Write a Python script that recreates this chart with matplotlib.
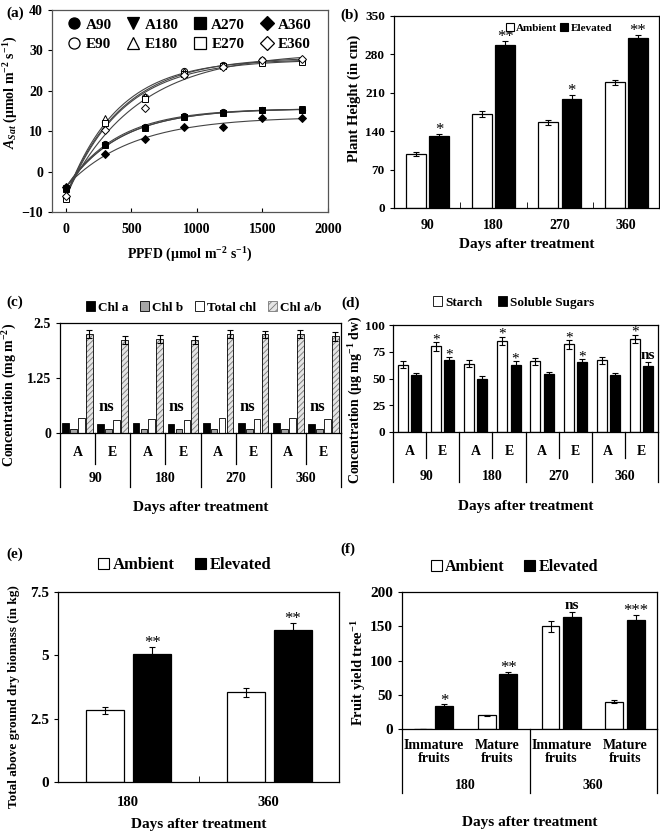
import numpy as np
import matplotlib
matplotlib.use('Agg')
import matplotlib.pyplot as plt
import matplotlib.transforms as mtransforms
from matplotlib.patches import Patch
from matplotlib.lines import Line2D

plt.rcParams['font.family'] = 'Liberation Serif'
plt.rcParams['font.weight'] = 'bold'
plt.rcParams['axes.labelweight'] = 'bold'
plt.rcParams['mathtext.fontset'] = 'custom'
plt.rcParams['mathtext.rm'] = 'Liberation Serif:bold'
plt.rcParams['mathtext.it'] = 'Liberation Serif:italic:bold'
plt.rcParams['mathtext.bf'] = 'Liberation Serif:bold'
plt.rcParams['axes.linewidth'] = 0.9
plt.rcParams['hatch.linewidth'] = 0.6

# (a) light response curves
ppfd = [0, 300, 600, 900, 1200, 1500, 1800]
a90 = [-4.0, 6.8, 11.0, 13.8, 14.8, 15.3, 15.3]
a180 = [-4.0, 6.5, 10.8, 13.5, 14.5, 15.2, 15.5]
a270 = [-4.2, 6.5, 10.7, 13.5, 14.5, 15.3, 15.3]
a360 = [-3.8, 4.3, 8.1, 11.1, 11.0, 13.2, 13.2]
e90 = [-6.2, 12.2, 18.5, 24.8, 26.5, 27.5, 27.5]
e180 = [-6.5, 13.2, 18.8, 24.8, 26.3, 27.3, 27.5]
e270 = [-6.8, 12.0, 18.0, 24.2, 26.2, 26.8, 27.2]
e360 = [-6.0, 10.3, 15.8, 23.8, 26.0, 27.5, 27.8]

# (b) plant height
days4 = ['90', '180', '270', '360']
height_amb = [98, 171, 156, 229]
height_amb_err = [4, 5, 5, 5]
height_elev = [131, 298, 199, 310]
height_elev_err = [4, 6, 7, 5]
height_sig = ['*', '**', '*', '**']

# (c) chlorophyll, order 90A, 90E, 180A, 180E, ...
chl_a = [0.23, 0.21, 0.22, 0.20, 0.23, 0.22, 0.23, 0.21]
chl_b = [0.10, 0.09, 0.10, 0.09, 0.10, 0.09, 0.10, 0.09]
chl_total = [0.33, 0.30, 0.32, 0.29, 0.33, 0.32, 0.33, 0.31]
chl_ratio = [2.25, 2.12, 2.14, 2.12, 2.25, 2.24, 2.25, 2.20]
chl_ratio_err = [0.09, 0.09, 0.09, 0.09, 0.09, 0.08, 0.09, 0.10]

# (d) carbohydrates
starch = [63, 80, 64, 85, 66, 82, 67, 87]
starch_err = [3, 4, 3, 4, 3, 4, 3, 4]
sugars = [53, 67, 50, 63, 54, 65, 53, 62]
sugars_err = [2.5, 3, 2.5, 3, 2.5, 3, 2.5, 3]
starch_sig = ['', '*', '', '*', '', '*', '', '*']
sugars_sig = ['', '*', '', '*', '', '*', '', 'ns']

# (e) biomass
days2 = ['180', '360']
biomass_amb = [2.83, 3.55]
biomass_amb_err = [0.15, 0.18]
biomass_elev = [5.07, 5.99]
biomass_elev_err = [0.25, 0.3]
biomass_sig = ['**', '**']

# (f) fruit yield
fruit_types = ['Immature\nfruits', 'Mature\nfruits']
fruit_amb = [0, 20, 150, 40]
fruit_amb_err = [0, 1, 8, 2]
fruit_elev = [34, 80, 163, 159]
fruit_elev_err = [2, 3, 8, 7]
fruit_sig = ['*', '**', 'ns', '***']

W, H = 660, 834
fig = plt.figure(figsize=(W / 100, H / 100), dpi=100)


def ax_at(x0, y0, x1, y1):
    return fig.add_axes([x0 / W, 1 - y1 / H, (x1 - x0) / W, (y1 - y0) / H])


def fit_curve(x, y):
    x = np.asarray(x, float)
    y = np.asarray(y, float)
    best = None
    for k in np.linspace(0.0005, 0.012, 500):
        M = np.column_stack([np.ones_like(x), np.exp(-k * x)])
        coef = np.linalg.lstsq(M, y, rcond=None)[0]
        err = np.sum((M @ coef - y) ** 2)
        if best is None or err < best[0]:
            best = (err, k, coef)
    xs = np.linspace(0, 1800, 200)
    return xs, best[2][0] + best[2][1] * np.exp(-best[1] * xs)


def cat_table(ax, n_grp, n_sub, sub_labels, grp_labels, y_sub, y_short, y_grp,
              y_long, fs=10, short=True):
    tr = mtransforms.blended_transform_factory(ax.transData, ax.transAxes)
    for g in range(n_grp):
        for s in range(n_sub):
            i = g * n_sub + s
            ax.text(i + 0.5, y_sub, sub_labels[s], transform=tr, ha='center',
                    va='center', fontsize=fs, linespacing=1.0)
            if s > 0 and short:
                ax.plot([i, i], [0, y_short], transform=tr, clip_on=False,
                        color='k', lw=0.9)
        ax.text(g * n_sub + n_sub / 2, y_grp, grp_labels[g], transform=tr,
                ha='center', va='center', fontsize=fs)
    for g in range(n_grp + 1):
        ax.plot([g * n_sub] * 2, [0, y_long], transform=tr, clip_on=False,
                color='k', lw=0.9)
    ax.set_xticks([])


def stars(ax, xs, tops, labels, fs=12):
    # asterisks sit high in the text box, so pull them down onto the bar
    for x, t, s in zip(xs, tops, labels):
        if s == 'ns':
            ax.annotate(s, (x, t), xytext=(0, 0), textcoords='offset points',
                        ha='center', va='bottom', fontsize=11)
        elif s:
            ax.annotate(s, (x, t), xytext=(0, -3), textcoords='offset points',
                        ha='center', va='bottom', fontsize=fs,
                        fontweight='normal')


sq = dict(handlelength=0.7, handleheight=0.7, handletextpad=0.2, frameon=False)

# ---------- (a)
ax = ax_at(52, 10, 328, 212)
series = [(a90, 'o', 'k'), (a180, 'v', 'k'), (a270, 's', 'k'), (a360, 'D', 'k'),
          (e90, 'o', 'w'), (e180, '^', 'w'), (e270, 's', 'w'), (e360, 'D', 'w')]
names = ['A90', 'A180', 'A270', 'A360', 'E90', 'E180', 'E270', 'E360']
for vals, m, fc in series:
    xs, ys = fit_curve(ppfd, vals)
    ax.plot(xs, ys, color='#444444', lw=0.8, zorder=2)
for vals, m, fc in series:
    ax.plot(ppfd, vals, linestyle='none', marker=m, ms=4.5 if m != 'D' else 3.8,
            mfc=fc, mec='k', mew=0.7, zorder=3)
handles = [Line2D([], [], linestyle='none', marker=m, ms=8 if m != 'D' else 7,
                  mfc=fc, mec='k', mew=0.9) for vals, m, fc in series]
# legend fills column by column, so interleave the A and E rows
order = [0, 4, 1, 5, 2, 6, 3, 7]
ax.legend([handles[i] for i in order], [names[i] for i in order], ncol=4,
          loc='upper left', bbox_to_anchor=(0.03, 0.99), frameon=False,
          fontsize=11, handlelength=1.0, handletextpad=0.25, columnspacing=0.9,
          labelspacing=0.35, borderaxespad=0)
ax.set_xlim(-106, 2000)
ax.set_ylim(-10, 40)
ax.set_xticks([0, 500, 1000, 1500, 2000])
ax.set_yticks([-10, 0, 10, 20, 30, 40])
ax.tick_params(axis='x', direction='in', length=3, labelsize=10, pad=8)
ax.tick_params(axis='y', direction='out', length=3, labelsize=10)
for sp in ax.spines.values():
    sp.set_color('#555555')
ax.text(-0.15, 0.59, r'$A_{Sat}$ (μmol m$^{-2}$ s$^{-1}$)', rotation=90,
        transform=ax.transAxes, ha='center', va='center', fontsize=10)
ax.text(0.5, -0.21, r'PPFD (μmol m$^{-2}$ s$^{-1}$)', transform=ax.transAxes,
        ha='center', va='center', fontsize=10)
fig.text(6 / W, 1 - 13 / H, '(a)', fontsize=11, va='center')

# ---------- (b)
ax = ax_at(394, 16, 659, 208)
x = np.arange(4) + 0.5
ax.bar(x - 0.17, height_amb, 0.3, color='white', edgecolor='k', lw=0.9,
       yerr=height_amb_err, error_kw=dict(lw=0.8, capsize=2, capthick=0.8))
ax.bar(x + 0.18, height_elev, 0.3, color='black', edgecolor='k', lw=0.9,
       yerr=height_elev_err, error_kw=dict(lw=0.8, capsize=2, capthick=0.8))
stars(ax, x + 0.18, np.add(height_elev, height_elev_err), height_sig)
ax.set_xlim(0, 4)
ax.set_ylim(0, 350)
ax.set_yticks(range(0, 351, 70))
ax.set_xticks(x)
ax.set_xticklabels(days4)
ax.set_xticks([1, 2, 3], minor=True)
ax.tick_params(axis='x', which='major', length=0, labelsize=10, pad=8)
ax.tick_params(axis='x', which='minor', direction='in', length=4)
ax.tick_params(axis='y', direction='out', length=3, labelsize=9.5)
ax.legend([Patch(fc='white', ec='k', lw=0.8), Patch(fc='black', ec='k', lw=0.8)],
          ['Ambient', 'Elevated'], ncol=2, loc='upper right',
          bbox_to_anchor=(0.86, 1.015), fontsize=8, columnspacing=0.3, **sq)
ax.text(-0.15, 0.57, 'Plant Height (in cm)', rotation=90, transform=ax.transAxes,
        ha='center', va='center', fontsize=10.5)
ax.text(0.5, -0.19, 'Days after treatment', transform=ax.transAxes,
        ha='center', va='center', fontsize=11)
fig.text(340 / W, 1 - 15 / H, '(b)', fontsize=11, va='center')

# ---------- (c)
ax = ax_at(60, 323, 341, 433)
x = np.arange(8) + 0.5
step, bw = 0.225, 0.19
ax.bar(x - 1.5 * step, chl_a, bw, color='black', edgecolor='k', lw=0.6)
ax.bar(x - 0.5 * step, chl_b, bw, color='#a6a6a6', edgecolor='k', lw=0.6)
ax.bar(x + 0.5 * step, chl_total, bw, color='white', edgecolor='k', lw=0.6)
ax.bar(x + 1.5 * step, chl_ratio, bw, color='#e4e4e4', edgecolor='#777777',
       hatch='//////', lw=0)
ax.bar(x + 1.5 * step, chl_ratio, bw, color='none', edgecolor='k', lw=0.6,
       yerr=chl_ratio_err, error_kw=dict(lw=0.8, capsize=2, capthick=0.8))
for i in range(1, 8, 2):
    ax.text(i + 0.32, 0.6, 'ns', ha='center', va='center', fontsize=12)
ax.set_xlim(0, 8)
ax.set_ylim(0, 2.5)
ax.set_yticks([0, 1.25, 2.5])
ax.set_yticklabels(['0', '1.25', '2.5'])
ax.tick_params(axis='y', direction='out', length=3, labelsize=10)
cat_table(ax, 4, 2, ['A', 'E'], days4, -0.18, -0.28, -0.41, -0.49, fs=10)
ax.legend([Patch(fc='black', ec='k', lw=0.6), Patch(fc='#a6a6a6', ec='k', lw=0.6),
           Patch(fc='white', ec='k', lw=0.6),
           Patch(fc='#e4e4e4', ec='#777777', hatch='/////', lw=0.6)],
          ['Chl a', 'Chl b', 'Total chl', 'Chl a/b'], ncol=4, loc='center',
          bbox_to_anchor=(0.51, 1.14), fontsize=9.5, columnspacing=0.9, **sq)
ax.text(-0.18, 0.35, r'Concentration (mg m$^{-2}$)', rotation=90,
        transform=ax.transAxes, ha='center', va='center', fontsize=10)
ax.text(0.5, -0.68, 'Days after treatment', transform=ax.transAxes,
        ha='center', va='center', fontsize=11)
fig.text(6 / W, 1 - 302 / H, '(c)', fontsize=11, va='center')

# ---------- (d)
ax = ax_at(393, 325, 658, 432)
ax.bar(x - 0.2, starch, 0.3, color='white', edgecolor='k', lw=0.9,
       yerr=starch_err, error_kw=dict(lw=0.8, capsize=2, capthick=0.8))
ax.bar(x + 0.2, sugars, 0.3, color='black', edgecolor='k', lw=0.9,
       yerr=sugars_err, error_kw=dict(lw=0.8, capsize=2, capthick=0.8))
stars(ax, x - 0.2, np.add(starch, starch_err), starch_sig, fs=11)
stars(ax, x + 0.2, np.add(sugars, sugars_err), sugars_sig, fs=11)
ax.set_xlim(0, 8)
ax.set_ylim(0, 100)
ax.set_yticks(range(0, 101, 25))
ax.tick_params(axis='y', direction='out', length=3, labelsize=9.5, pad=2.5)
cat_table(ax, 4, 2, ['A', 'E'], days4, -0.18, -0.24, -0.42, -0.47, fs=10)
ax.legend([Patch(fc='white', ec='k', lw=0.6), Patch(fc='black', ec='k', lw=0.6)],
          ['Starch', 'Soluble Sugars'], ncol=2, loc='center',
          bbox_to_anchor=(0.455, 1.21), fontsize=9.5, columnspacing=1.2, **sq)
ax.text(-0.14, 0.3, r'Concentration (μg mg$^{-1}$ dw)', rotation=90,
        transform=ax.transAxes, ha='center', va='center', fontsize=10)
ax.text(0.5, -0.7, 'Days after treatment', transform=ax.transAxes,
        ha='center', va='center', fontsize=11)
fig.text(341 / W, 1 - 303 / H, '(d)', fontsize=11, va='center')

# ---------- (e)
ax = ax_at(58, 592, 339, 782)
x = np.arange(2) + 0.5
ax.bar(x - 0.165, biomass_amb, 0.27, color='white', edgecolor='k', lw=0.9,
       yerr=biomass_amb_err, error_kw=dict(lw=0.8, capsize=2.5, capthick=0.8))
ax.bar(x + 0.17, biomass_elev, 0.27, color='black', edgecolor='k', lw=0.9,
       yerr=biomass_elev_err, error_kw=dict(lw=0.8, capsize=2.5, capthick=0.8))
stars(ax, x + 0.17, np.add(biomass_elev, biomass_elev_err), biomass_sig)
ax.set_xlim(0, 2)
ax.set_ylim(0, 7.5)
ax.set_yticks([0, 2.5, 5, 7.5])
ax.set_yticklabels(['0', '2.5', '5', '7.5'])
ax.set_xticks(x)
ax.set_xticklabels(days2)
ax.set_xticks([1], minor=True)
ax.tick_params(axis='x', which='major', length=0, labelsize=10.5, pad=10)
ax.tick_params(axis='x', which='minor', direction='in', length=4)
ax.tick_params(axis='y', direction='out', length=3, labelsize=11)
ax.legend([Patch(fc='white', ec='k', lw=0.8), Patch(fc='black', ec='k', lw=0.8)],
          ['Ambient', 'Elevated'], ncol=2, loc='center',
          bbox_to_anchor=(0.45, 1.14), fontsize=12, columnspacing=1.2, **sq)
ax.text(-0.155, 0.45, 'Total above ground dry biomass (in kg)', rotation=90,
        transform=ax.transAxes, ha='center', va='center', fontsize=9.5)
ax.text(0.5, -0.226, 'Days after treatment', transform=ax.transAxes,
        ha='center', va='center', fontsize=11)
fig.text(6 / W, 1 - 554 / H, '(e)', fontsize=11, va='center')

# ---------- (f)
ax = ax_at(402, 592, 657, 729)
x = np.arange(4) + 0.5
ax.bar(x - 0.17, fruit_amb, 0.28, color='white', edgecolor='k', lw=0.9,
       yerr=fruit_amb_err, error_kw=dict(lw=0.8, capsize=2, capthick=0.8))
ax.bar(x + 0.165, fruit_elev, 0.28, color='black', edgecolor='k', lw=0.9,
       yerr=fruit_elev_err, error_kw=dict(lw=0.8, capsize=2, capthick=0.8))
stars(ax, x + 0.165, np.add(fruit_elev, fruit_elev_err), fruit_sig)
ax.set_xlim(0, 4)
ax.set_ylim(0, 200)
ax.set_yticks(range(0, 201, 50))
ax.tick_params(axis='y', direction='out', length=3, labelsize=11)
cat_table(ax, 2, 2, fruit_types, days2, -0.17, 0, -0.41, -0.47, fs=10,
          short=False)
ax.legend([Patch(fc='white', ec='k', lw=0.8), Patch(fc='black', ec='k', lw=0.8)],
          ['Ambient', 'Elevated'], ncol=2, loc='center',
          bbox_to_anchor=(0.44, 1.18), fontsize=11.5, columnspacing=1.2, **sq)
ax.text(-0.17, 0.41, r'Fruit yield tree$^{-1}$', rotation=90,
        transform=ax.transAxes, ha='center', va='center', fontsize=10.5)
ax.text(0.5, -0.68, 'Days after treatment', transform=ax.transAxes,
        ha='center', va='center', fontsize=11)
fig.text(340 / W, 1 - 549 / H, '(f)', fontsize=11, va='center')

fig.savefig('out.png', dpi=100)
